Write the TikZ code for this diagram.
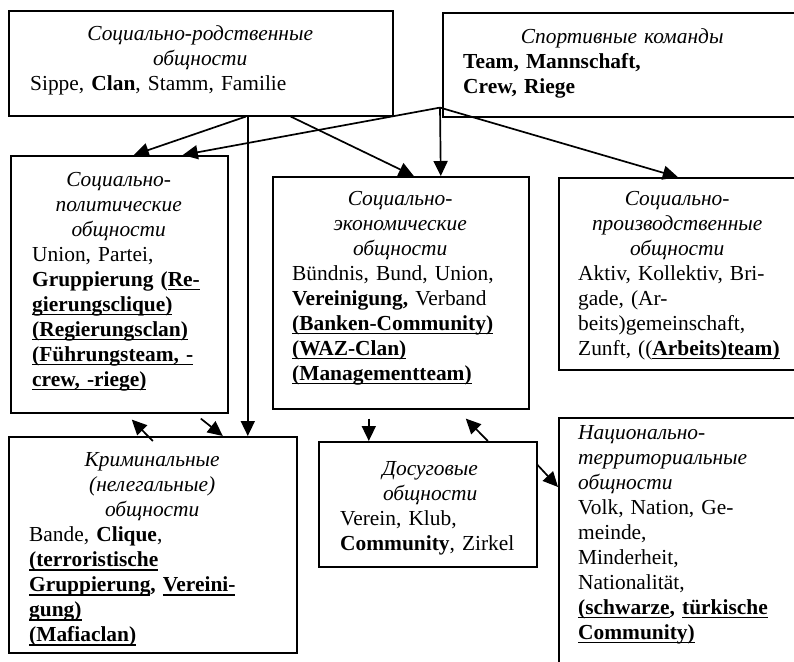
\documentclass[tikz,border=0pt]{standalone}
\usepackage{fontspec}
\setmainfont{Liberation Serif}
\usetikzlibrary{arrows.meta,positioning}

\tikzset{
  box/.style={draw, line width=1.6pt, inner sep=0pt, anchor=north west},
  txt/.style={inner sep=0pt, align=left,
    font=\fontsize{21.4}{25}\selectfont\setlength{\parindent}{0pt}},
  arr/.style={line width=1.7pt, -{Triangle[length=15pt,width=14pt]}},
}
\newcommand{\ttl}[1]{{\centering\itshape #1\par}}
\newsavebox{\undlbox}
\newcommand{\undl}[1]{\leavevmode\sbox{\undlbox}{#1}%
  \rlap{\raisebox{-4pt}{\rule{\wd\undlbox}{1.4pt}}}\usebox{\undlbox}}

\begin{document}
\begin{tikzpicture}[x=1pt, y=-1pt]
    \clip (0,0) rectangle (794,661);

    % boxes
    \node[box, minimum width=384pt, minimum height=105pt] (kin) at (8,10) {};
    \node[box, minimum width=380pt, minimum height=104pt] (sport) at (442,12) {};
    \node[box, minimum width=217pt, minimum height=257pt] (polit) at (10,155) {};
    \node[box, minimum width=256pt, minimum height=232pt] (econ) at (272,176) {};
    \node[box, minimum width=264pt, minimum height=192pt] (prod) at (558,177) {};
    \node[box, minimum width=288pt, minimum height=216pt] (crim) at (8,436) {};
    \node[box, minimum width=218pt, minimum height=125pt] (leis) at (318,441) {};
    \node[box, minimum width=264pt, minimum height=260pt] (nat) at (558,417) {};

    % texts
    \node[txt, text width=340pt, below right=15.5pt and 22pt of kin.north west] (kinT)
      {\ttl{Социально-родственные\\общности}Sippe, \textbf{Clan}, Stamm, Familie};
    \node[txt, text width=318pt, below right=16.5pt and 21pt of sport.north west] (sportT)
      {\ttl{Спортивные команды}\textbf{Team, Mannschaft,}\\\textbf{Crew, Riege}};
    \node[txt, text width=173pt, below right=17pt and 22pt of polit.north west] (politT)
      {\ttl{Социально-\\политические\\общности}Union, Partei,\\
       \textbf{Gruppierung (\undl{Re-}}\\\textbf{\undl{gierungsclique)}}\\
       \textbf{\undl{(Regierungsclan)}}\\\textbf{\undl{(Führungsteam, -}}\\
       \textbf{\undl{crew, -riege)}}};
    \node[txt, text width=216pt, below right=15pt and 20pt of econ.north west] (econT)
      {\ttl{Социально-\\экономические\\общности}Bündnis, Bund, Union,\\
       \textbf{Vereinigung,} Verband\\\textbf{\undl{(Banken-Community)}}\\
       \textbf{\undl{(WAZ-Clan)}}\\\textbf{\undl{(Managementteam)}}};
    \node[txt, text width=198pt, below right=14pt and 20pt of prod.north west] (prodT)
      {\ttl{Социально-\\производственные\\общности}Aktiv, Kollektiv, Bri-\\
       gade, (Ar-\\beits)gemeinschaft,\\\mbox{Zunft, ((\textbf{\undl{Arbeits)team)}}}};
    \node[txt, text width=246pt, below right=16.5pt and 21pt of crim.north west] (crimT)
      {\ttl{Криминальные\\(нелегальные)\\общности}Bande, \textbf{Clique},\\
       \textbf{\undl{(terroristische}}\\\textbf{\undl{Gruppierung}, \undl{Vereini-}}\\
       \textbf{\undl{gung)}}\\\textbf{\undl{(Mafiaclan)}}};
    \node[txt, text width=180pt, below right=20pt and 22pt of leis.north west] (leisT)
      {\ttl{Досуговые\\общности}Verein, Klub,\\\textbf{Community}, Zirkel};
    \node[txt, text width=220pt, below right=8pt and 20pt of nat.north west] (natT)
      {{\itshape Национально-\\территориальные\\общности}\\Volk, Nation, Ge-\\
       meinde,\\Minderheit,\\Nationalität,\\
       \textbf{\undl{(schwarze}, \undl{türkische}}\\\textbf{\undl{Community)}}};

    % connectors
    \coordinate (hub) at ([xshift=-2pt, yshift=10pt]sport.south west);
    \draw[arr] ([xshift=45pt]kin.south) -- ([xshift=14.5pt]polit.north);
    \draw[arr] ([xshift=47pt]kin.south) -- ([xshift=95pt]crim.north);
    \draw[arr] ([xshift=90pt]kin.south) -- ([xshift=13pt]econ.north);
    \draw[arr] (hub) -- ([xshift=63.5pt]polit.north);
    \draw[arr] (hub) -- ([xshift=40pt]econ.north);
    \draw[arr] (hub) -- ([xshift=-13pt]prod.north);
    \draw[arr] ([yshift=-5pt]crim.north) -- ([xshift=12.5pt, yshift=-6pt]polit.south);
    \draw[arr] ([xshift=81.5pt, yshift=-5pt]polit.south) -- ([xshift=70pt]crim.north);
    \draw[arr] ([xshift=-32pt, yshift=-9pt]econ.south) -- ([xshift=-59pt]leis.north);
    \draw[arr] ([xshift=60pt]leis.north) -- ([xshift=65pt, yshift=-9pt]econ.south);
    \draw[arr] ([yshift=-24pt]leis.north east) -- ([yshift=-70pt]nat.north west);
\end{tikzpicture}
\end{document}
